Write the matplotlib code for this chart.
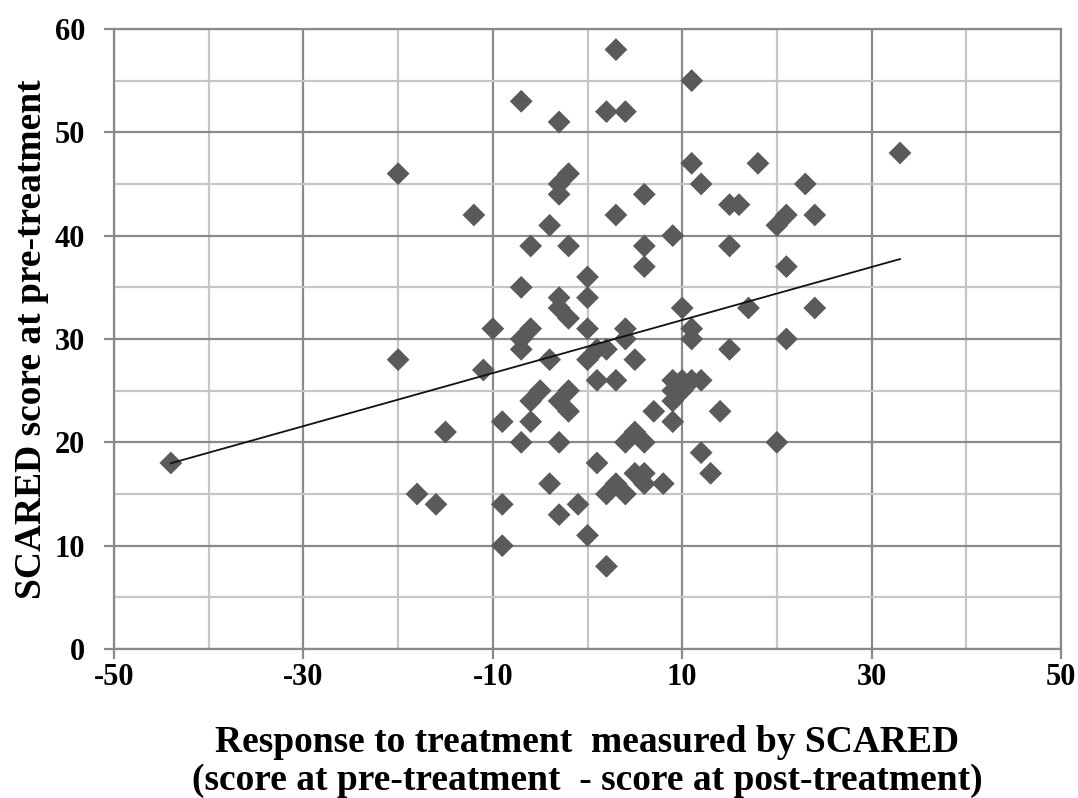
import matplotlib
matplotlib.use("Agg")
import matplotlib.pyplot as plt
import numpy as np
from matplotlib.ticker import MultipleLocator

plt.rcParams['axes.unicode_minus'] = False

# response (pre - post) and pre-treatment SCARED score
response = [-44, -20, -20, -18, -16, -15, -12, -11, -10, -9, -9, -9,
            -7, -7, -7, -7, -7, -6, -6, -6, -6, -5, -4, -4, -4,
            -3, -3, -3, -3, -3, -3, -3, -3, -2, -2, -2, -2, -2,
            -1, 0, 0, 0, 0, 0, 1, 1, 1, 2, 2, 2, 2,
            3, 3, 3, 3, 4, 4, 4, 4, 4, 5, 5, 5,
            6, 6, 6, 6, 6, 6, 7, 8, 9, 9, 9, 9, 9,
            10, 10, 10, 11, 11, 11, 11, 11, 12, 12, 12, 13,
            14, 15, 15, 15, 16, 17, 18, 20, 20, 21, 21, 21,
            23, 24, 24, 33]
pre_score = [18, 46, 28, 15, 14, 21, 42, 27, 31, 14, 10, 22,
             53, 35, 30, 29, 20, 39, 31, 24, 22, 25, 41, 28, 16,
             51, 45, 44, 34, 33, 24, 20, 13, 46, 39, 32, 25, 23,
             14, 36, 34, 31, 28, 11, 29, 26, 18, 52, 29, 15, 8,
             58, 42, 26, 16, 52, 31, 30, 20, 15, 28, 21, 17,
             44, 39, 37, 20, 17, 16, 23, 16, 40, 26, 25, 24, 22,
             33, 26, 25, 55, 47, 31, 30, 26, 45, 26, 19, 17,
             23, 43, 39, 29, 43, 33, 47, 41, 20, 42, 37, 30,
             45, 42, 33, 48]

x = np.array(response)
y = np.array(pre_score)

fig = plt.figure(figsize=(10.78, 7.98), dpi=100)
ax = fig.add_axes([0.1058, 0.1867, 0.8784, 0.777])

major_c = '#8a8a8a'
minor_c = '#c6c6c6'

ax.set_xlim(-50, 50)
ax.set_ylim(0, 60)
ax.xaxis.set_major_locator(MultipleLocator(20))
ax.xaxis.set_minor_locator(MultipleLocator(10))
ax.yaxis.set_major_locator(MultipleLocator(10))
ax.yaxis.set_minor_locator(MultipleLocator(5))
ax.set_xticks(np.arange(-50, 51, 20))

ax.grid(which='major', color=major_c, lw=1.6, zorder=0)
ax.grid(which='minor', color=minor_c, lw=1.6, zorder=0)
ax.set_axisbelow(True)
for s in ax.spines.values():
    s.set_color(major_c)
    s.set_linewidth(1.6)

ax.tick_params(which='major', direction='out', color=major_c, width=1.6,
               length=7, labelsize=22)
ax.tick_params(axis='y', pad=14)
ax.tick_params(axis='x', pad=3)
ax.tick_params(which='minor', length=0)
for lab in ax.get_xticklabels() + ax.get_yticklabels():
    lab.set_fontfamily('Liberation Serif')
    lab.set_fontweight('bold')

ax.scatter(x, y, marker='D', s=135, color='#5a5a5a', edgecolors='none', zorder=3)

# linear trend line over the data range
k, b = np.polyfit(x, y, 1)
xl = np.array([x.min(), x.max()])
ax.plot(xl, k * xl + b, color='#111111', lw=1.3, zorder=4)

ax.set_xlabel('Response to treatment  measured by SCARED\n'
              '(score at pre-treatment  - score at post-treatment)',
              fontfamily='Liberation Serif', fontweight='bold', fontsize=27,
              labelpad=24, linespacing=1.08)
ax.set_ylabel('SCARED score at pre-treatment', fontfamily='Liberation Serif',
              fontweight='bold', fontsize=27, labelpad=4)

fig.savefig('out.png', dpi=100)
